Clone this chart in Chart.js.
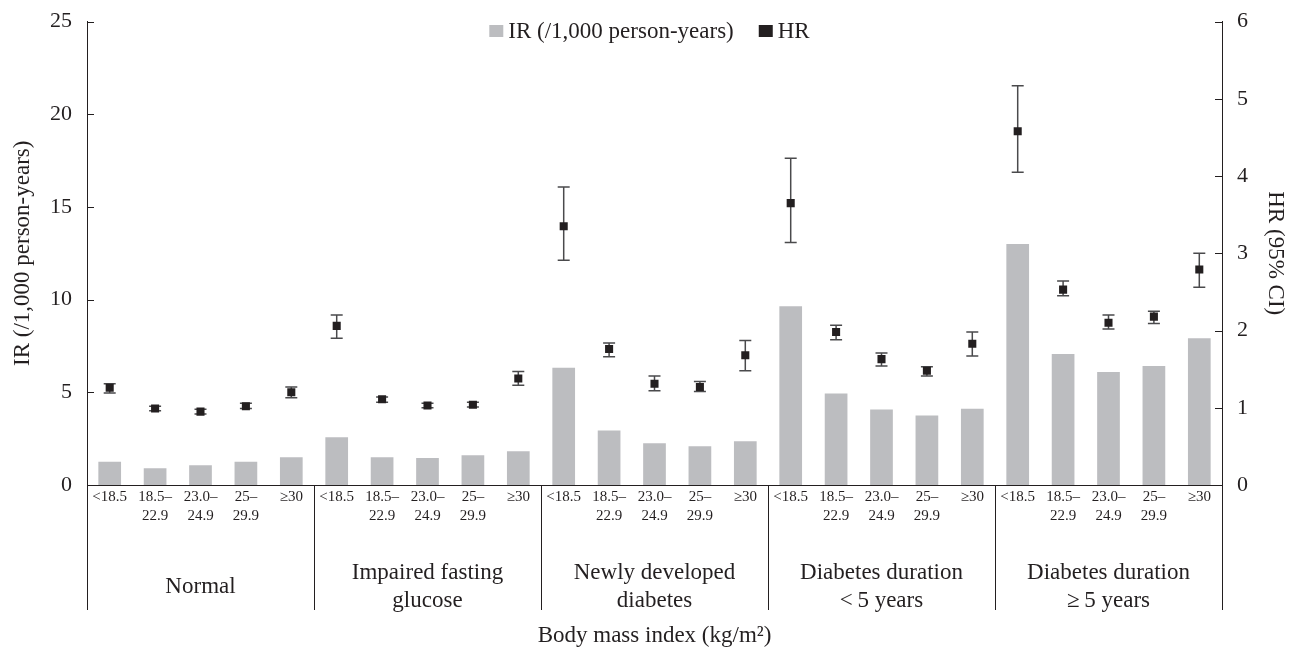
<!DOCTYPE html>
<html>
<head>
<meta charset="utf-8">
<script src="https://cdn.jsdelivr.net/npm/chart.js@4.4.1/dist/chart.umd.min.js"></script>
<style>
  html, body { margin: 0; padding: 0; background: #fff; }
</style>
</head>
<body>
<canvas id="chart" width="1295" height="651"></canvas>
<script>
// Datos
const groupNames = [
  ["Normal"],
  ["Impaired fasting", "glucose"],
  ["Newly developed", "diabetes"],
  ["Diabetes duration", "<\u20095 years"],
  ["Diabetes duration", "\u2265\u20095 years"]
];
const bmiLabels = ["<18.5", ["18.5\u2013", "22.9"], ["23.0\u2013", "24.9"], ["25\u2013", "29.9"], "\u226530"];
const categoryLabels = groupNames.flatMap(() => bmiLabels);

const irValues = [1.25, 0.91, 1.07, 1.25, 1.50, 2.57, 1.50, 1.45, 1.61, 1.82, 6.32, 2.94, 2.25, 2.09, 2.36, 9.64, 4.93, 4.07, 3.75, 4.12, 13.0, 7.07, 6.10, 6.42, 7.92];
const hrValues = [1.26, 0.99, 0.95, 1.02, 1.20, 2.06, 1.11, 1.03, 1.04, 1.38, 3.35, 1.76, 1.31, 1.27, 1.68, 3.65, 1.98, 1.63, 1.48, 1.83, 4.58, 2.53, 2.10, 2.18, 2.79];
const hrLow = [1.19, 0.96, 0.92, 0.99, 1.13, 1.90, 1.07, 1.00, 1.01, 1.29, 2.91, 1.66, 1.22, 1.21, 1.48, 3.14, 1.88, 1.54, 1.41, 1.67, 4.05, 2.45, 2.02, 2.09, 2.56];
const hrHigh = [1.31, 1.02, 0.98, 1.06, 1.27, 2.20, 1.14, 1.06, 1.07, 1.47, 3.86, 1.84, 1.41, 1.34, 1.87, 4.23, 2.07, 1.71, 1.53, 1.98, 5.17, 2.64, 2.20, 2.25, 3.00];

const SERIF = "'Liberation Serif', 'Times New Roman', serif";
const INK = "#231f20";
const BAR_GREY = "#bcbdc0";

// Barras de error, marcas internas, separadores, grupos y leyenda
const decorPlugin = {
  id: "decor",
  beforeDatasetDraw(chart, args) {
    if (args.index !== 1) return;
    const ctx = chart.ctx;
    const x = chart.scales.x;
    const y1 = chart.scales.y1;
    ctx.save();
    ctx.strokeStyle = "#4a4a4c";
    ctx.lineWidth = 1.5;
    hrValues.forEach((v, i) => {
      const px = x.getPixelForValue(i);
      const top = y1.getPixelForValue(hrHigh[i]);
      const bot = y1.getPixelForValue(hrLow[i]);
      ctx.beginPath();
      ctx.moveTo(px, top); ctx.lineTo(px, bot);
      ctx.moveTo(px - 6, top); ctx.lineTo(px + 6, top);
      ctx.moveTo(px - 6, bot); ctx.lineTo(px + 6, bot);
      ctx.stroke();
    });
    ctx.restore();
  },
  afterDraw(chart) {
    const ctx = chart.ctx;
    const area = chart.chartArea;
    const x = chart.scales.x;
    const y = chart.scales.y;
    const y1 = chart.scales.y1;
    ctx.save();

    // marcas hacia dentro
    ctx.strokeStyle = INK;
    ctx.lineWidth = 1;
    ctx.beginPath();
    y.ticks.forEach((t) => {
      const py = Math.round(y.getPixelForValue(t.value)) + 0.5;
      ctx.moveTo(area.left, py); ctx.lineTo(area.left + 7, py);
    });
    y1.ticks.forEach((t) => {
      const py = Math.round(y1.getPixelForValue(t.value)) + 0.5;
      ctx.moveTo(area.right - 7, py); ctx.lineTo(area.right, py);
    });
    ctx.stroke();

    // separadores de grupo
    const per = bmiLabels.length;
    ctx.beginPath();
    for (let k = 0; k <= groupNames.length; k++) {
      let px;
      if (k === 0) px = area.left;
      else if (k === groupNames.length) px = area.right;
      else px = (x.getPixelForValue(k * per - 1) + x.getPixelForValue(k * per)) / 2;
      px = Math.round(px) + 0.5;
      ctx.moveTo(px, area.bottom); ctx.lineTo(px, area.bottom + 125);
    }
    ctx.stroke();

    // nombres de grupo
    ctx.fillStyle = INK;
    ctx.font = "23px " + SERIF;
    ctx.textAlign = "center";
    ctx.textBaseline = "middle";
    groupNames.forEach((lines, g) => {
      const cx = (x.getPixelForValue(g * per) + x.getPixelForValue(g * per + per - 1)) / 2;
      const cy = area.bottom + 102;
      const lh = 28;
      lines.forEach((txt, j) => {
        ctx.fillText(txt, cx, cy + (j - (lines.length - 1) / 2) * lh);
      });
    });

    // leyenda
    ctx.font = "23px " + SERIF;
    ctx.textAlign = "left";
    const items = chart.data.datasets.map((d) => ({ label: d.label, color: d.backgroundColor }));
    const box = 14, gapText = 5, gapItem = 25;
    const widths = items.map((it) => box + gapText + ctx.measureText(it.label).width);
    const total = widths.reduce((a, b) => a + b, 0) + gapItem * (items.length - 1);
    let lx = (area.left + area.right) / 2 - total / 2 - 5;
    const ly = 31;
    items.forEach((it, i) => {
      ctx.fillStyle = it.color;
      ctx.fillRect(lx, ly - 6, box, 12);
      ctx.fillStyle = INK;
      ctx.fillText(it.label, lx + box + gapText, ly + 1);
      lx += widths[i] + gapItem;
    });

    ctx.restore();
  }
};

const ctx = document.getElementById("chart").getContext("2d");
new Chart(ctx, {
  type: "bar",
  data: {
    labels: categoryLabels,
    datasets: [
      {
        type: "bar",
        label: "IR (/1,000 person-years)",
        data: irValues,
        yAxisID: "y",
        backgroundColor: BAR_GREY,
        borderWidth: 0,
        barPercentage: 0.5,
        categoryPercentage: 1,
        order: 2
      },
      {
        type: "line",
        label: "HR",
        data: hrValues,
        yAxisID: "y1",
        showLine: false,
        pointStyle: "rect",
        pointRadius: 5.7,
        pointHoverRadius: 5.7,
        pointBackgroundColor: INK,
        pointBorderWidth: 0,
        backgroundColor: INK,
        borderColor: INK,
        order: 1
      }
    ]
  },
  options: {
    responsive: false,
    animation: false,
    events: [],
    layout: { padding: { top: 15, left: 0, right: 0, bottom: 0 } },
    plugins: {
      legend: { display: false },
      tooltip: { enabled: false }
    },
    scales: {
      x: {
        offset: true,
        grid: { display: false, drawTicks: false },
        border: { display: true, color: INK, width: 1 },
        ticks: {
          autoSkip: false,
          maxRotation: 0,
          padding: 2,
          color: INK,
          font: { family: SERIF, size: 15, lineHeight: 1.3 }
        },
        title: {
          display: true,
          text: "Body mass index (kg/m\u00b2)",
          color: INK,
          font: { family: SERIF, size: 23 },
          padding: { top: 0, bottom: 1 }
        },
        afterFit(scale) { scale.height = 166; }
      },
      y: {
        position: "left",
        min: 0,
        max: 25,
        grid: { display: false, drawTicks: false },
        border: { display: true, color: INK, width: 1 },
        ticks: { stepSize: 5, padding: 15, color: INK, font: { family: SERIF, size: 22, lineHeight: 0.6 } },
        title: {
          display: true,
          text: "IR (/1,000 person-years)",
          color: INK,
          font: { family: SERIF, size: 23 },
          padding: { top: 9, bottom: 0 }
        },
        afterFit(scale) { scale.width = 87; }
      },
      y1: {
        position: "right",
        min: 0,
        max: 6,
        grid: { display: false, drawTicks: false },
        border: { display: true, color: INK, width: 1 },
        ticks: { stepSize: 1, padding: 15, color: INK, font: { family: SERIF, size: 22, lineHeight: 0.6 } },
        title: {
          display: true,
          text: "HR (95% CI)",
          color: INK,
          font: { family: SERIF, size: 23 },
          padding: { top: 6, bottom: 0 }
        },
        afterFit(scale) { scale.width = 73; }
      }
    }
  },
  plugins: [decorPlugin]
});
</script>
</body>
</html>
